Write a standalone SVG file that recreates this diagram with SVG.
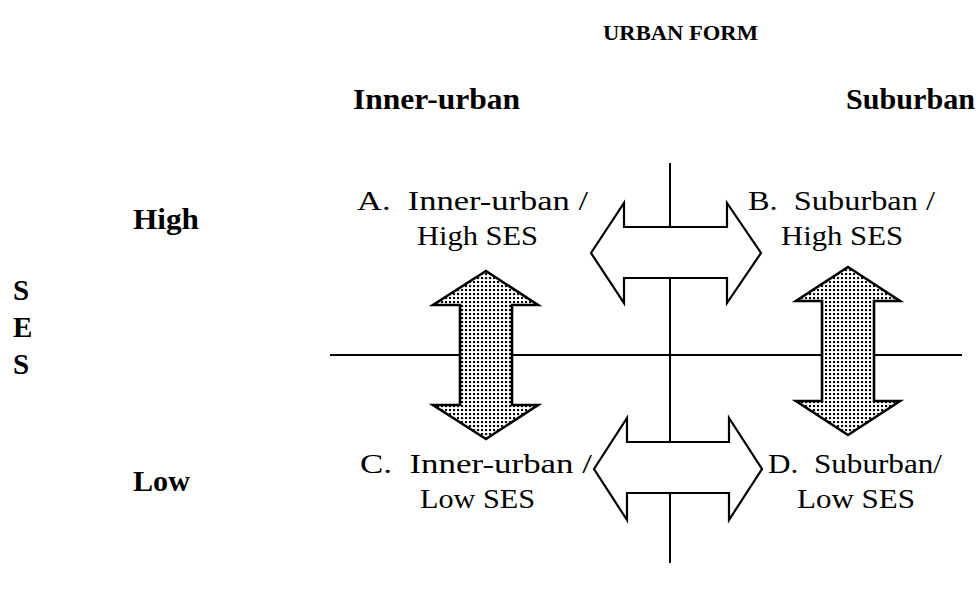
<svg xmlns="http://www.w3.org/2000/svg" width="978" height="593" viewBox="0 0 978 593">
  <defs>
    <!-- fine dot screen used inside the vertical SES arrows -->
    <pattern id="dots" width="4" height="4" patternUnits="userSpaceOnUse">
      <rect width="4" height="4" fill="#ffffff"/>
      <rect x="1" y="1" width="2.1" height="2.1" fill="#000000"/>
    </pattern>
    <style>
      .axis { stroke: #000; stroke-width: 2; fill: none; }
      .harrow { fill: #fff; stroke: #000; stroke-width: 2.2; stroke-linejoin: miter; }
      .varrow { fill: url(#dots); stroke: #000; stroke-width: 2.6; stroke-linejoin: miter; }
      .head { font-family: "Liberation Serif", "Times New Roman", serif; font-weight: bold; fill: #000; }
      .quad { font-family: "Liberation Serif", "Times New Roman", serif; font-size: 27px; fill: #000; white-space: pre; }
    </style>
  </defs>

  <rect width="978" height="593" fill="#ffffff"/>

  <!-- axes -->
  <g id="connectors">
    <line class="axis" x1="330" y1="355" x2="962" y2="355"/>
    <line class="axis" x1="670" y1="163" x2="670" y2="563"/>
  </g>

  <!-- axis titles -->
  <g id="title-urban-form">
    <text class="head" x="603" y="40" font-size="21" textLength="155" lengthAdjust="spacingAndGlyphs">URBAN FORM</text>
  </g>
  <g id="label-inner-urban">
    <text class="head" x="353" y="109" font-size="30" textLength="167" lengthAdjust="spacingAndGlyphs">Inner-urban</text>
  </g>
  <g id="label-suburban">
    <text class="head" x="846" y="109" font-size="30" textLength="129" lengthAdjust="spacingAndGlyphs">Suburban</text>
  </g>
  <g id="label-ses">
    <text class="head" x="13" y="300" font-size="29">S</text>
    <text class="head" x="13" y="337" font-size="29">E</text>
    <text class="head" x="13" y="374" font-size="29">S</text>
  </g>
  <g id="label-high">
    <text class="head" x="133" y="229" font-size="29" textLength="66" lengthAdjust="spacingAndGlyphs">High</text>
  </g>
  <g id="label-low">
    <text class="head" x="133" y="491" font-size="29" textLength="57" lengthAdjust="spacingAndGlyphs">Low</text>
  </g>

  <!-- quadrant A -->
  <g id="quadrant-a">
    <text class="quad" x="357" y="210" textLength="231" lengthAdjust="spacingAndGlyphs">A.  Inner-urban /</text>
    <text class="quad" x="417" y="245" textLength="121" lengthAdjust="spacingAndGlyphs">High SES</text>
  </g>
  <!-- quadrant B -->
  <g id="quadrant-b">
    <text class="quad" x="748" y="210" textLength="187" lengthAdjust="spacingAndGlyphs">B.  Suburban /</text>
    <text class="quad" x="781" y="245" textLength="122" lengthAdjust="spacingAndGlyphs">High SES</text>
  </g>
  <!-- quadrant C -->
  <g id="quadrant-c">
    <text class="quad" x="360" y="473" textLength="232" lengthAdjust="spacingAndGlyphs">C.  Inner-urban /</text>
    <text class="quad" x="420" y="508" textLength="115" lengthAdjust="spacingAndGlyphs">Low SES</text>
  </g>
  <!-- quadrant D -->
  <g id="quadrant-d">
    <text class="quad" x="768" y="473" textLength="174" lengthAdjust="spacingAndGlyphs">D.  Suburban/</text>
    <text class="quad" x="797" y="508" textLength="118" lengthAdjust="spacingAndGlyphs">Low SES</text>
  </g>

  <!-- two-way arrows between inner-urban and suburban -->
  <g id="arrow-top">
    <path class="harrow" d="M591,253 L624,203 L624,227 L727,227 L727,203 L761,253 L727,303 L727,278 L624,278 L624,303 Z"/>
  </g>
  <g id="arrow-bottom">
    <path class="harrow" d="M594,469 L627,418 L627,442 L729,442 L729,418 L762,469 L729,520 L729,493 L627,493 L627,520 Z"/>
  </g>

  <!-- two-way arrows between high and low SES -->
  <g id="arrow-left">
    <path class="varrow" d="M486,271 L538,305 L512,305 L512,405 L538,405 L486,439 L433,405 L460,405 L460,305 L433,305 Z"/>
  </g>
  <g id="arrow-right">
    <path class="varrow" d="M848,267 L900,301 L874,301 L874,401 L900,401 L848,435 L796,401 L822,401 L822,301 L796,301 Z"/>
  </g>
</svg>
